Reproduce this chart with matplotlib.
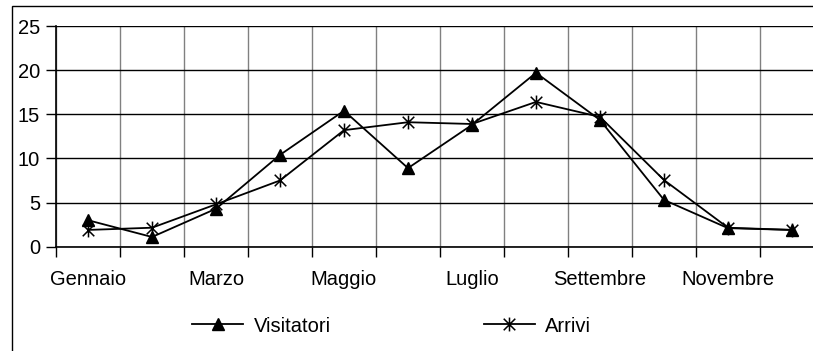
import numpy as np
import matplotlib
matplotlib.use("Agg")
import matplotlib.pyplot as plt
from matplotlib.path import Path
from matplotlib.patches import Rectangle

plt.rcParams['font.family'] = ['Liberation Sans', 'DejaVu Sans']

# monthly data
mesi = ["Gennaio", "Febbraio", "Marzo", "Aprile", "Maggio", "Giugno",
        "Luglio", "Agosto", "Settembre", "Ottobre", "Novembre", "Dicembre"]
visitatori = [3.0, 1.1, 4.3, 10.4, 15.4, 8.9, 13.8, 19.7, 14.35, 5.3, 2.1, 1.9]
arrivi = [1.9, 2.15, 4.8, 7.5, 13.2, 14.1, 13.9, 16.4, 14.7, 7.55, 2.15, 1.9]
y_ticks = [0, 5, 10, 15, 20, 25]

W, H = 813, 351
fig = plt.figure(figsize=(W / 100, H / 100), dpi=100)
fig.patch.set_facecolor("white")

# outer chart border (runs off the right and bottom edges)
fig.patches.append(Rectangle((12 / W, -0.2), 1.0, (H - 6) / H + 0.2,
                             transform=fig.transFigure, fill=False,
                             edgecolor="black", linewidth=1.0))

ax = fig.add_axes([56 / W, (H - 246.7) / H, 768 / W, 220.7 / H])

# asterisk marker: an X with a vertical bar
star = Path([(-1, -1), (1, 1), (-1, 1), (1, -1), (0, -1.2), (0, 1.2)],
            [Path.MOVETO, Path.LINETO, Path.MOVETO, Path.LINETO,
             Path.MOVETO, Path.LINETO])

x = np.arange(len(mesi))
ax.plot(x, visitatori, color="black", lw=1.3, marker="^", markersize=9,
        markerfacecolor="black", label="Visitatori", clip_on=False, zorder=4)
ax.plot(x, arrivi, color="black", lw=1.3, marker=star, markersize=10,
        markerfacecolor="none", markeredgewidth=1.1, label="Arrivi",
        clip_on=False, zorder=4)

ax.set_xlim(-0.5, len(mesi) - 0.5)
ax.set_ylim(0, 25)
ax.set_yticks(y_ticks)
ax.set_xticks(x[::2])
ax.set_xticklabels(mesi[::2])
ax.set_xticks(np.arange(-0.5, len(mesi)), minor=True)

ax.tick_params(axis="x", which="major", length=0, pad=17, labelsize=14.5)
ax.tick_params(axis="x", which="minor", length=7, width=1, direction="out")
ax.tick_params(axis="y", length=7, width=1, direction="out", pad=4.5,
               labelsize=14.5)

ax.grid(True, axis="y", color="black", lw=1)
ax.grid(True, axis="x", which="minor", color="#808080", lw=1)
ax.set_axisbelow(True)
for side in ["top", "right"]:
    ax.spines[side].set_visible(False)
for side in ["left", "bottom"]:
    ax.spines[side].set_linewidth(1.2)

fig.legend(loc="center left", bbox_to_anchor=(192 / W, 1 - 326 / H),
           ncol=2, frameon=False, fontsize=14.5, handlelength=2.55,
           handletextpad=0.5, columnspacing=7.6, borderpad=0,
           borderaxespad=0)

fig.savefig("out.png", dpi=100)
